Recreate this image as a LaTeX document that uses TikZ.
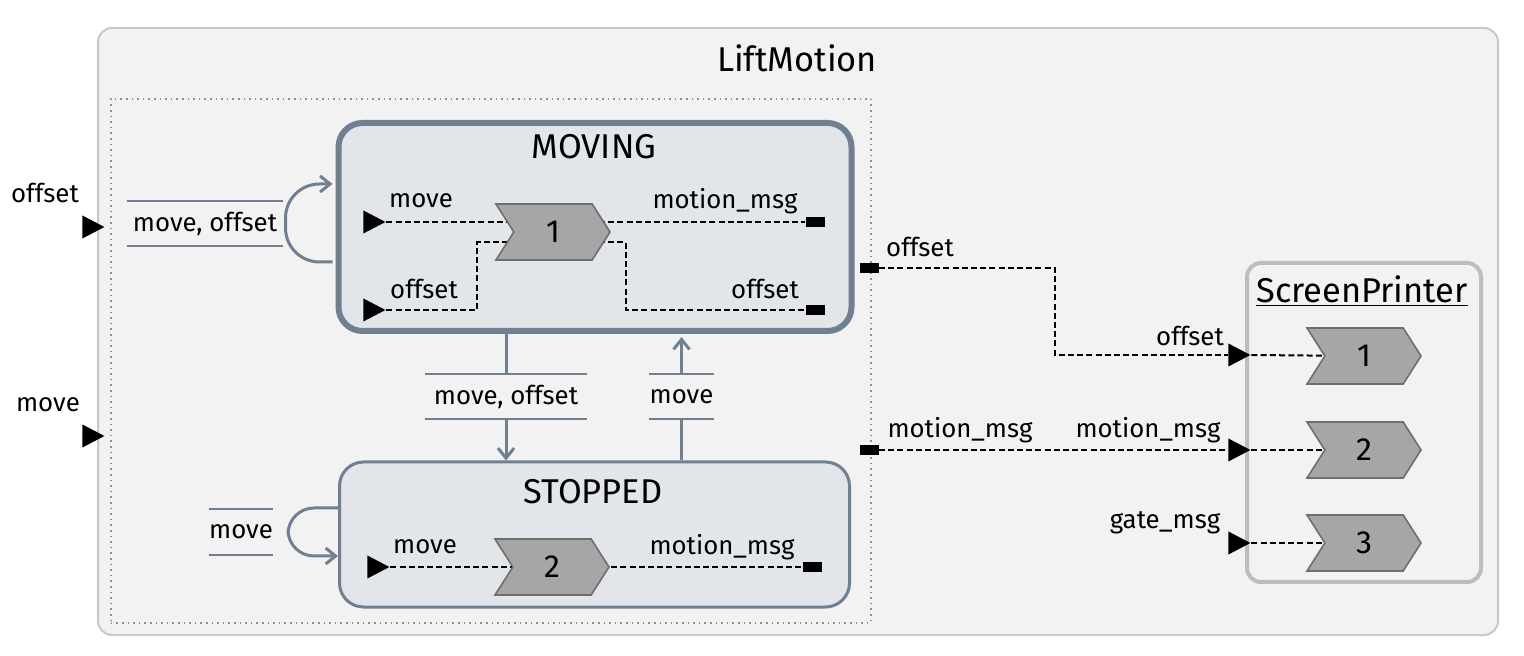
\documentclass[tikz,border=0pt]{standalone}
\usepackage{fontspec}
\setmainfont{Fira Sans}
\usetikzlibrary{arrows.meta,shapes.geometric,shapes.symbols,calc}
\definecolor{slate}{HTML}{708090}
\definecolor{statefill}{HTML}{E2E6EB}
\definecolor{bgfill}{HTML}{F2F2F2}
\definecolor{bgline}{HTML}{C8C8C8}
\definecolor{spline}{HTML}{BDBDBD}
\definecolor{procfill}{HTML}{A6A6A6}
\definecolor{procline}{HTML}{6E6E6E}
\pgfdeclarelayer{back}
\pgfdeclarelayer{wires}
\pgfsetlayers{back,wires,main}
\tikzset{
  lbl/.style={font=\fontsize{12.9}{15}\selectfont, inner sep=0pt},
  ttl/.style={font=\fontsize{17.2}{20}\selectfont, inner sep=0pt},
  container/.style={draw=bgline, line width=1pt, fill=bgfill, rounded corners=7pt, inner sep=0pt, anchor=north west},
  statebox/.style={draw=slate, fill=statefill, rounded corners=12pt, inner sep=0pt, anchor=north west},
  proc/.style={signal, signal to=east, signal from=west, signal pointer angle=115,
     fill=procfill, draw=procline, line width=0.8pt, minimum width=57pt, minimum height=28pt,
     inner sep=0pt, font=\fontsize{16}{19}\selectfont},
  inport/.style={isosceles triangle, isosceles triangle stretches, fill=black, inner sep=0pt,
     minimum width=11.5pt, minimum height=11pt, anchor=west},
  outport/.style={rectangle, fill=black, inner sep=0pt, minimum width=9.5pt, minimum height=5pt},
  flow/.style={dashed, dash pattern=on 3pt off 1.6pt, line width=1pt, black},
  trans/.style={draw=slate, line width=1.5pt},
  tarrow/.style={-{Straight Barb[length=5pt,width=8pt]}},
  trlbl/.style={lbl, minimum height=22.5pt},
  trline/.style={draw=slate, line width=1pt},
}
\begin{document}
\begin{tikzpicture}[x=0.5pt,y=-0.5pt]
\useasboundingbox (0,0) rectangle (1524,656);
\begin{pgfonlayer}{back}
\node[container, minimum width=700pt, minimum height=303.5pt] (lift) at (97,27) {};
\node[draw=slate!85, dotted, line width=0.8pt, inner sep=0pt, anchor=north west,
      minimum width=380pt, minimum height=262pt] (grp) at (110,98) {};
\node[statebox, line width=3pt, minimum width=256.5pt, minimum height=104pt] (mv) at (335.5,120) {};
\node[statebox, line width=1.5pt, minimum width=255pt, minimum height=72.5pt] (st) at (338,460.5) {};
\node[draw=spline, line width=2pt, fill=bgfill, rounded corners=7pt, inner sep=0pt, anchor=north west,
      minimum width=117pt, minimum height=159.5pt] (sp) at (1245,261) {};
\end{pgfonlayer}

\node[ttl] (liftT) at (797,58) {LiftMotion};
\node[ttl] (mvT) at (594,147) {MOVING};
\node[ttl] (stT) at (593,492) {STOPPED};
\node[ttl] (spT) at (1362,291) {\underline{ScreenPrinter}};

% MOVING internals
\node[inport] (mi1) at (363,222) {};
\node[inport] (mi2) at (363,310) {};
\node[proc] (p1) at (553,232) {1};
\node[outport] (mo1) at (815,222) {};
\node[outport] (mo2) at (815,310) {};
\node[lbl] (lmi1) at (421,201) {move};
\node[lbl] (lmi2) at (424,289) {offset};
\node[lbl] (lmo1) at (725,201) {motion\_msg};
\node[lbl] (lmo2) at (765,289) {offset};

% STOPPED internals
\node[inport] (si) at (367,567) {};
\node[proc] (p2) at (552,567) {2};
\node[outport] (so) at (812,567) {};
\node[lbl] (lsi) at (425,547) {move};
\node[lbl] (lso) at (722,547) {motion\_msg};

% Lift ports
\node[inport] (li1) at (82,227) {};
\node[inport] (li2) at (82,436) {};
\node[lbl] (lli1) at (45,193) {offset};
\node[lbl] (lli2) at (48,405) {move};
\node[outport] (op1) at (869,268) {};
\node[outport] (op2) at (869,450) {};
\node[lbl] (lop1) at (920,247) {offset};
\node[lbl] (lop2) at (960,430) {motion\_msg};

% ScreenPrinter
\node[inport] (ti1) at (1228,355) {};
\node[inport] (ti2) at (1228,450) {};
\node[inport] (ti3) at (1228,543) {};
\node[lbl] (lti1) at (1190,336) {offset};
\node[lbl] (lti2) at (1148,430) {motion\_msg};
\node[lbl] (lti3) at (1165,523) {gate\_msg};
\node[proc] (s1) at (1364,356) {1};
\node[proc] (s2) at (1364,450) {2};
\node[proc] (s3) at (1364,543) {3};

% transition labels
\node[trlbl, minimum width=78pt] (lp1) at (205,223.5) {move, offset};
\node[trlbl, minimum width=81pt] (t1) at (506,396.5) {move, offset};
\node[trlbl, minimum width=30.5pt] (t2) at (681.5,396.5) {move};
\node[trlbl, minimum width=28pt] (lp2) at (241,532) {move};
\foreach \n in {lp1,t1,t2,lp2}{
  \draw[trline] (\n.north west) -- (\n.north east);
  \draw[trline] (\n.south west) -- (\n.south east);
}

\begin{pgfonlayer}{wires}
\draw[flow] (mi1.east) -- (mi1.east -| p1.center);
\draw[flow] (mi2.east) -- ++(91,0) |- ($(p1.center)+(0,10)$);
\draw[flow] (p1.center |- mo1.west) -- (mo1.west);
\draw[flow] ($(p1.center)+(0,10)$) -- ++(73,0) |- (mo2.west);
\draw[flow] (si.east) -- (p2.center) -- (so.west);
\draw[flow] (op1.east) -- ++(176,0) |- (ti1.west);
\draw[flow] (op2.east) -- (ti2.west);
\draw[flow] (ti1.east) -- (s1.center);
\draw[flow] (ti2.east) -- (s2.center);
\draw[flow] (ti3.east) -- (s3.center);
\end{pgfonlayer}

% transitions
\draw[trans] (t1.north |- mv.south) -- (t1.north);
\draw[trans, tarrow] (t1.south) -- (t1.south |- st.north);
\draw[trans] (t2.south |- st.north) -- (t2.south);
\draw[trans, tarrow, shorten >=1.5pt] (t2.north) -- (t2.north |- mv.south);
\draw[trans, tarrow, rounded corners=17pt, shorten <=1.5pt, shorten >=1.5pt]
  ($(mv.north west)+(0,142)$) -- ++(-50,0) -- ++(0,-78) -- ($(mv.north west)+(0,64)$);
\draw[trans, tarrow, rounded corners=13pt]
  ($(st.north west)+(0,47.5)$) -- ++(-50,0) -- ++(0,48) -- ($(st.north west)+(0,95.5)$);
\end{tikzpicture}
\end{document}
